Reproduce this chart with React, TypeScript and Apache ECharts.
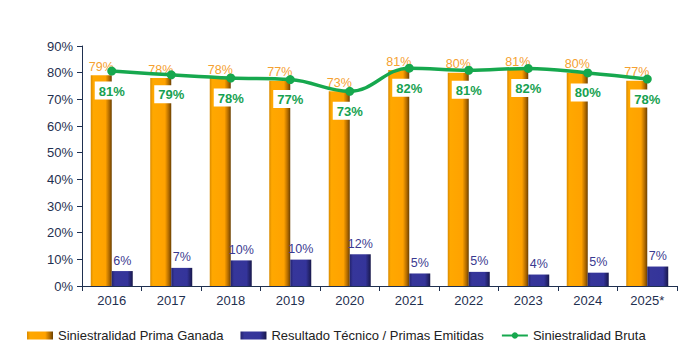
import React, { useEffect, useRef } from "react";
import * as echarts from "echarts";

const categories = ["2016", "2017", "2018", "2019", "2020", "2021", "2022", "2023", "2024", "2025*"];
const primaGanada = [79, 78, 78, 77, 73, 81, 80, 81, 80, 77];
const resultadoTecnico = [5.6, 6.8, 9.6, 9.9, 11.9, 4.7, 5.3, 4.3, 5.0, 7.3];
const resultadoLabels = ["6%", "7%", "10%", "10%", "12%", "5%", "5%", "4%", "5%", "7%"];
const bruta = [80.6, 79.2, 78.0, 77.4, 73.0, 81.7, 80.9, 81.6, 79.9, 77.6];
const brutaLabels = ["81%", "79%", "78%", "77%", "73%", "82%", "81%", "82%", "80%", "78%"];
const primaLabels = ["79%", "78%", "78%", "77%", "73%", "81%", "80%", "81%", "80%", "77%"];

const FONT = "Liberation Sans, Arial, sans-serif";

export default function App() {
  const ref = useRef<HTMLDivElement>(null);
  useEffect(() => {
    if (!ref.current) return;
    const chart = echarts.init(ref.current, null, { renderer: "svg" });
    const orange = new echarts.graphic.LinearGradient(0, 0, 1, 0, [
      { offset: 0, color: "#d98a00" },
      { offset: 0.12, color: "#ffa800" },
      { offset: 0.7, color: "#ffa200" },
      { offset: 0.88, color: "#b06a00" },
      { offset: 1, color: "#6b4000" },
    ]);
    const blue = new echarts.graphic.LinearGradient(0, 0, 1, 0, [
      { offset: 0, color: "#23236e" },
      { offset: 0.15, color: "#36369a" },
      { offset: 0.75, color: "#34349a" },
      { offset: 1, color: "#18184a" },
    ]);
    chart.setOption({
      animation: false,
      textStyle: { fontFamily: FONT },
      grid: { left: 82, right: 21, top: 46, bottom: 73, containLabel: false },
      legend: {
        bottom: 12,
        left: 22,
        itemGap: 17,
        itemWidth: 26,
        itemHeight: 8,
        textStyle: { fontFamily: FONT, fontSize: 13, color: "#222" },
        data: [
          { name: "Siniestralidad Prima Ganada", icon: "rect" },
          { name: "Resultado Técnico / Primas Emitidas", icon: "rect" },
          { name: "Siniestralidad Bruta" },
        ],
      },
      xAxis: {
        type: "category",
        data: categories,
        axisLine: { lineStyle: { color: "#1f3050", width: 1 } },
        axisTick: { show: true, length: 5, lineStyle: { color: "#1f3050" } },
        axisLabel: { color: "#1f3050", fontSize: 13, fontFamily: FONT, margin: 8 },
      },
      yAxis: {
        type: "value",
        min: 0,
        max: 90,
        interval: 10,
        axisLine: { show: true, lineStyle: { color: "#1f3050", width: 1 } },
        axisTick: { show: true, length: 5, lineStyle: { color: "#1f3050" } },
        axisLabel: { color: "#1f3050", fontSize: 13, fontFamily: FONT, formatter: "{value}%", margin: 9 },
        splitLine: { show: false },
      },
      series: [
        {
          name: "Siniestralidad Prima Ganada",
          type: "bar",
          data: primaGanada,
          barWidth: 21,
          barGap: "0%",
          itemStyle: { color: orange },
          label: {
            show: true,
            position: "top",
            distance: 2,
            color: "#f5a130",
            fontSize: 12.5,
            fontFamily: FONT,
            formatter: (p: any) => primaLabels[p.dataIndex],
          },
        },
        {
          name: "Resultado Técnico / Primas Emitidas",
          type: "bar",
          data: resultadoTecnico,
          barWidth: 21,
          itemStyle: { color: blue },
          label: {
            show: true,
            position: "top",
            distance: 4,
            color: "#3a3a90",
            fontSize: 12.5,
            fontFamily: FONT,
            formatter: (p: any) => resultadoLabels[p.dataIndex],
          },
        },
        {
          name: "Siniestralidad Bruta",
          type: "line",
          data: bruta,
          smooth: 0.4,
          symbol: "circle",
          symbolSize: 9,
          z: 5,
          lineStyle: { color: "#16a84e", width: 3.5 },
          itemStyle: { color: "#16a84e" },
          label: {
            show: true,
            position: "bottom",
            distance: 6,
            color: "#17a150",
            fontWeight: "bold",
            fontSize: 13,
            fontFamily: FONT,
            backgroundColor: "#ffffff",
            padding: [3, 4, 2, 4],
            formatter: (p: any) => brutaLabels[p.dataIndex],
          },
        },
      ],
    });
    return () => chart.dispose();
  }, []);
  return <div ref={ref} style={{ position: "fixed", left: 0, top: 0, width: 698, height: 359, background: "#fff" }} />;
}
